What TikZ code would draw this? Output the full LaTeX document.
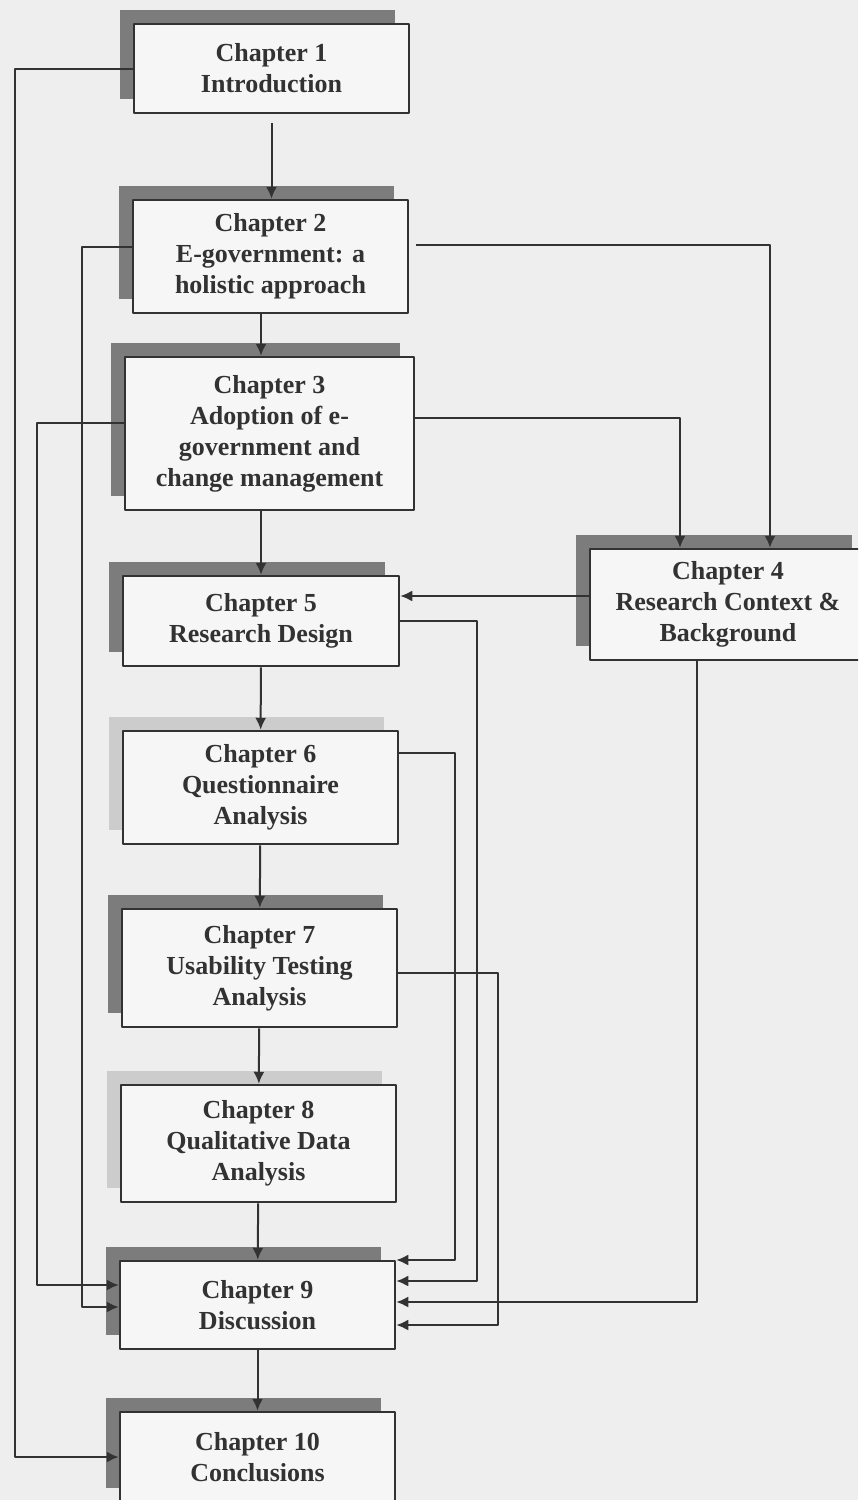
\documentclass[tikz,border=0pt]{standalone}
\usepackage{fontspec}
\setmainfont{Liberation Serif}
\usetikzlibrary{arrows.meta,shadows}
\definecolor{paper}{RGB}{238,238,238}
\definecolor{ink}{RGB}{50,50,50}
\definecolor{shdark}{RGB}{124,124,124}
\definecolor{shlight}{RGB}{204,204,204}
\begin{document}
\begin{tikzpicture}[x=0.5pt,y=-0.5pt,line join=round,>={Latex[length=6pt,width=5.5pt]},
	chap/.style={draw=ink,line width=1.25pt,fill=paper!50!white,text=ink,font=\fontsize{13}{15.5}\selectfont\bfseries,align=center,minimum width=137.5pt,inner sep=0pt},
	dark/.style={chap,general shadow={fill=shdark,shadow xshift=-7pt,shadow yshift=7pt}},
	light/.style={chap,general shadow={fill=shlight,shadow xshift=-7pt,shadow yshift=7pt}},
	link/.style={draw=ink,line width=1pt,->}]
	\useasboundingbox (0,0) rectangle (858,1500);
	\clip (0,0) rectangle (858,1500);
	\fill[paper] (0,0) rectangle (858,1500);
	% chapters
	\node[dark,minimum height=44.5pt] (ch1) at (271.5,68.5) {Chapter 1\\Introduction};
	\node[dark,minimum height=56.5pt] (ch2) at (270.5,256.5) {Chapter 2\\E-government: a\\holistic approach};
	\node[dark,minimum width=144.5pt,minimum height=76.5pt] (ch3) at (269.5,433.5) {Chapter 3\\Adoption of e-\\government and\\change management};
	\node[dark,minimum width=138pt,minimum height=55.5pt] (ch4) at (728,604.5) {Chapter 4\\Research Context \&\\Background};
	\node[dark,minimum width=138pt,minimum height=45pt] (ch5) at (261,621) {Chapter 5\\Research Design};
	\node[light,minimum height=56.5pt] (ch6) at (260.5,787.5) {Chapter 6\\Questionnaire\\Analysis};
	\node[dark,minimum height=59pt] (ch7) at (259.5,968) {Chapter 7\\Usability Testing\\Analysis};
	\node[light,minimum height=58.5pt] (ch8) at (258.5,1143.5) {Chapter 8\\Qualitative Data\\Analysis};
	\node[dark,minimum height=44pt] (ch9) at (257.5,1305) {Chapter 9\\Discussion};
	\node[dark,minimum height=45pt] (ch10) at (257.5,1457) {Chapter 10\\Conclusions};
	% rails
	\coordinate (r1) at (15,0);
	\coordinate (r2) at (37,0);
	\coordinate (r3) at (82,0);
	\coordinate (r6) at (455,0);
	\coordinate (r5) at (477,0);
	\coordinate (r7) at (498,0);
	\coordinate (r4a) at (680,0);
	\coordinate (r4b) at (697,0);
	\coordinate (r4c) at (770,0);
	% main line
	\draw[link,shorten <=4.5pt] (ch1.south) -- (ch1.south |- ch2.north);
	\draw[link] (ch2.south -| ch5) -- (ch3.north -| ch5);
	\draw[link] (ch3.south -| ch5) -- (ch5.north);
	\draw[link] (ch5) -- (ch6);
	\draw[link] (ch6) -- (ch7);
	\draw[link] (ch7) -- (ch8);
	\draw[link] (ch8) -- (ch9);
	\draw[link] (ch9) -- (ch10);
	% left side
	\draw[link] (ch1.west) -- (ch1.west -| r1) |- (ch10.west);
	\draw[link] ([yshift=4.75pt]ch2.west) -- ([yshift=4.75pt]ch2.west -| r3) |- ([yshift=-1pt]ch9.west);
	\draw[link] ([yshift=5.25pt]ch3.west) -- ([yshift=5.25pt]ch3.west -| r2) |- ([yshift=10pt]ch9.west);
	% right side
	\draw[link] ([shift={(3.5pt,5.75pt)}]ch2.east) -| (r4c |- ch4.north);
	\draw[link] ([yshift=7.75pt]ch3.east) -| (r4a |- ch4.north);
	\draw[link] ([yshift=4.25pt]ch4.west) -- ([yshift=4.25pt]ch4.west -| ch5.east);
	\draw[link] (r4b |- ch4.south) |- ([yshift=1.5pt]ch9.east);
	\draw[link] (ch5.east) -- (ch5.east -| r5) |- ([yshift=12pt]ch9.east);
	\draw[link] ([yshift=17.25pt]ch6.east) -- ([yshift=17.25pt]ch6.east -| r6) |- ([yshift=22.5pt]ch9.east);
	\draw[link] ([yshift=-2.5pt]ch7.east) -- ([yshift=-2.5pt]ch7.east -| r7) |- ([yshift=-10pt]ch9.east);
\end{tikzpicture}
\end{document}
